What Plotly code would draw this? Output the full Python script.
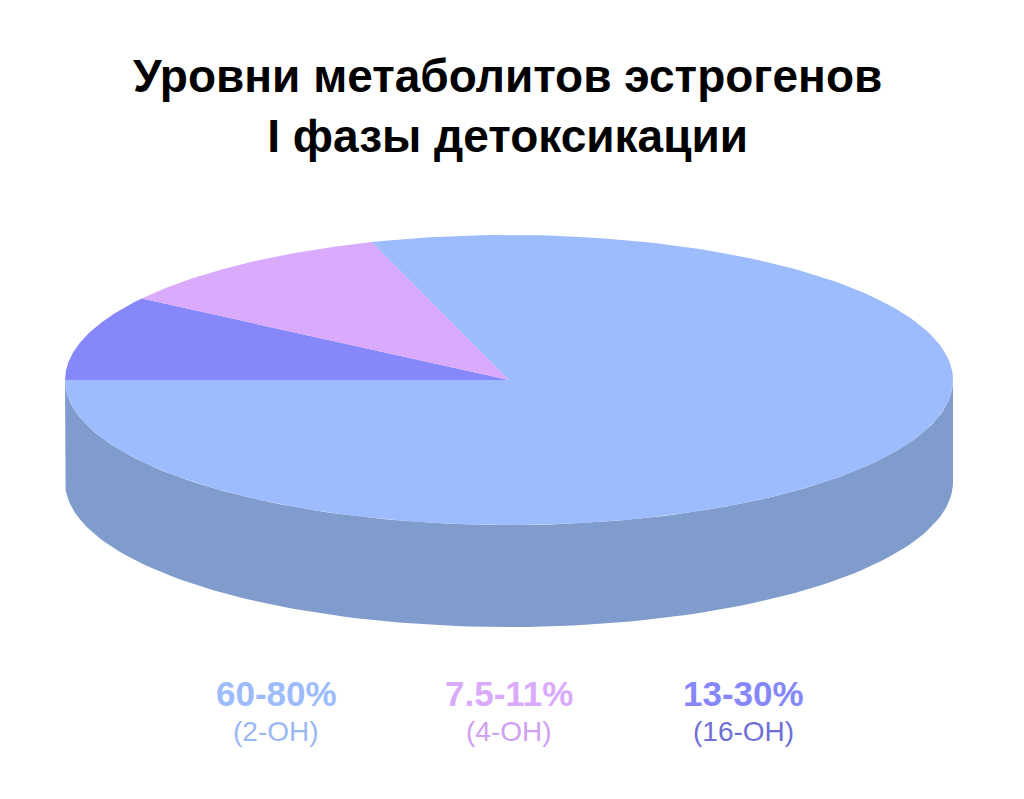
import numpy as np
import plotly.graph_objects as go

# Data
labels = ["(16-OH)", "(4-OH)", "(2-OH)"]
ranges = ["13-30%", "7.5-11%", "60-80%"]
values = [9.5, 10.5, 80.0]
top_colors = ["#8787fc", "#d9aafd", "#9dbcfd"]
side_colors = ["#6c6cca", "#ae88ca", "#7f9ccd"]
text_colors = ["#8787fc", "#d9aafd", "#9dbcfd"]
sub_colors = ["#6f6fd6", "#d0a0f4", "#9ab8f4"]

W, H = 1024, 799
# page adds ~8px offset, compensate
ox, oy = -7, 8
cx, cy = 508 + ox, H - 380 + oy
rx, ry = 444, 145
depth = 102


def ell(a):
    r = np.radians(a)
    return cx + rx * np.cos(r), cy + ry * np.sin(r)


fig = go.Figure()

# slice angle spans, clockwise from the left point
spans = []
start = 180.0
for v in values:
    end = start - v / sum(values) * 360
    spans.append((start, end))
    start = end

# side walls (front half)
for (s, e), col in zip(spans, side_colors):
    lo, hi = max(e, -180), min(s, 0)
    if lo >= hi:
        continue
    a = np.linspace(hi, lo, 120)
    x, y = ell(a)
    xs = np.concatenate([x, x[::-1]])
    ys = np.concatenate([y, y[::-1] - depth])
    fig.add_trace(go.Scatter(x=xs, y=ys, fill="toself", fillcolor=col, mode="lines",
                             line=dict(width=0), hoverinfo="skip", showlegend=False))

# top faces
for (s, e), col in zip(spans, top_colors):
    a = np.linspace(s, e, 200)
    x, y = ell(a)
    xs = np.concatenate([[cx], x, [cx]])
    ys = np.concatenate([[cy], y, [cy]])
    fig.add_trace(go.Scatter(x=xs, y=ys, fill="toself", fillcolor=col, mode="lines",
                             line=dict(width=0), hoverinfo="skip", showlegend=False))

# legend-like labels
label_x = [742, 508, 275]
for lx, rng, lab, c1, c2 in zip(label_x, ranges, labels, text_colors, sub_colors):
    fig.add_annotation(x=lx + ox, y=H - 693 + oy, text="<b>" + rng + "</b>", showarrow=False,
                       font=dict(size=35, color=c1, family="Liberation Sans"))
    fig.add_annotation(x=lx + ox, y=H - 731 + oy, text=lab, showarrow=False,
                       font=dict(size=28, color=c2, family="Liberation Sans"))

fig.add_annotation(x=506 + ox, y=H - 106 + oy,
                   text="<b>Уровни метаболитов эстрогенов<br>I фазы детоксикации</b>",
                   showarrow=False, font=dict(size=46, color="black", family="Liberation Sans"))

fig.update_layout(
    width=W, height=H, margin=dict(l=0, r=0, t=0, b=0),
    paper_bgcolor="white", plot_bgcolor="white",
    xaxis=dict(range=[0, W], visible=False, fixedrange=True),
    yaxis=dict(range=[0, H], visible=False, fixedrange=True),
)

fig.write_html("out.html")
